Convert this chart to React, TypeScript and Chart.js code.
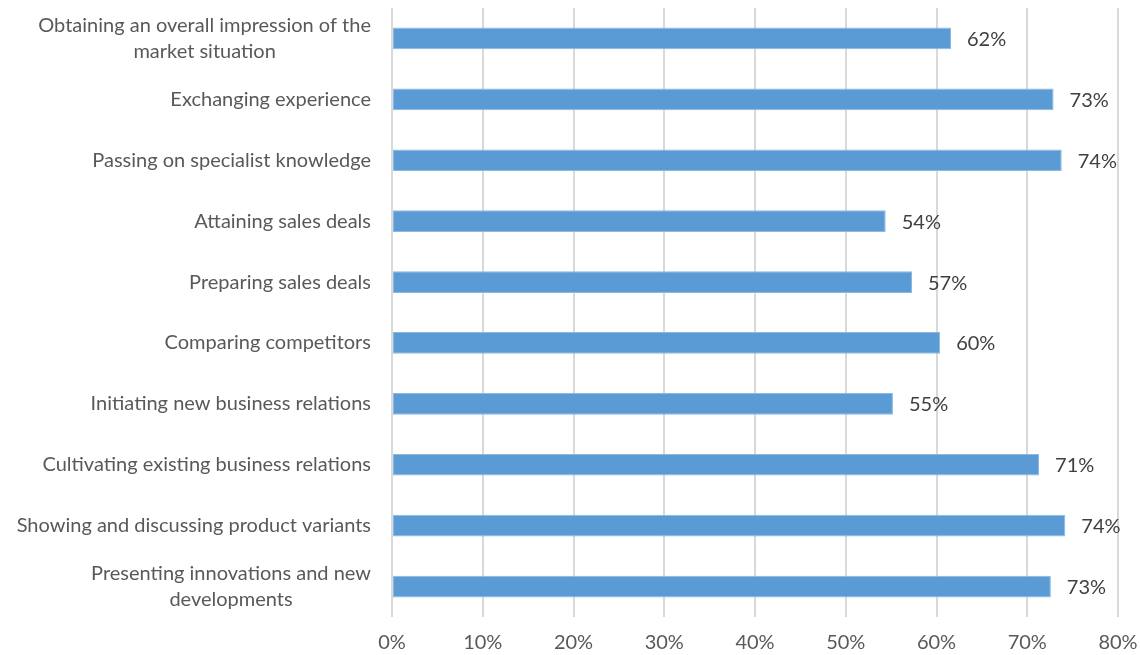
import React, { useEffect, useRef } from "react";
import { Chart, registerables } from "chart.js";

Chart.register(...registerables);

const categories: (string | string[])[] = [
  ["Obtaining an overall impression of the", "market situation"],
  "Exchanging experience",
  "Passing on specialist knowledge",
  "Attaining sales deals",
  "Preparing sales deals",
  "Comparing competitors",
  "Initiating new business relations",
  "Cultivating existing business relations",
  "Showing and discussing product variants",
  ["Presenting innovations and new", "developments"],
];

const shares: number[] = [61.6, 72.9, 73.8, 54.4, 57.3, 60.4, 55.2, 71.3, 74.2, 72.6];

const xTicks: number[] = [0, 10, 20, 30, 40, 50, 60, 70, 80];

const FONT = "Lato";
const LINE_H = 26;

const dataLabels = {
  id: "dataLabels",
  afterDatasetsDraw(chart: any) {
    const ctx = chart.ctx;
    const meta = chart.getDatasetMeta(0);
    ctx.save();
    ctx.font = `20px ${FONT}`;
    ctx.fillStyle = "#404040";
    ctx.textAlign = "left";
    ctx.textBaseline = "middle";
    meta.data.forEach((bar: any, i: number) => {
      const v = chart.data.datasets[0].data[i] as number;
      ctx.fillText(`${Math.round(v)}%`, bar.x + 16, bar.y + 1);
    });
    ctx.restore();
  },
};

const categoryLabels = {
  id: "categoryLabels",
  afterDraw(chart: any) {
    const ctx = chart.ctx;
    const yScale = chart.scales.y;
    const right = yScale.right - 21;
    ctx.save();
    ctx.font = `20px ${FONT}`;
    ctx.fillStyle = "#595959";
    ctx.textAlign = "center";
    ctx.textBaseline = "middle";
    (chart.data.labels as (string | string[])[]).forEach((lab, i) => {
      const lines = Array.isArray(lab) ? lab : [lab];
      const w = Math.max(...lines.map((l) => ctx.measureText(l).width));
      const cx = right - w / 2;
      const cy = yScale.getPixelForTick(i);
      const y0 = cy - ((lines.length - 1) * LINE_H) / 2;
      lines.forEach((l, k) => ctx.fillText(l, cx, y0 + k * LINE_H));
    });
    ctx.restore();
  },
};

export default function App() {
  const ref = useRef<HTMLCanvasElement | null>(null);
  useEffect(() => {
    if (!ref.current) return;
    const chart = new Chart(ref.current, {
      type: "bar",
      data: {
        labels: categories,
        datasets: [
          {
            data: shares,
            backgroundColor: "#5b9bd5",
            borderColor: "#8cb8e2",
            borderWidth: 1,
            borderSkipped: false,
            barPercentage: 0.357,
            categoryPercentage: 1,
          },
        ],
      },
      options: {
        indexAxis: "y",
        animation: false,
        responsive: true,
        maintainAspectRatio: false,
        layout: { padding: { top: 8, right: 22, bottom: 0, left: 0 } },
        plugins: { legend: { display: false }, tooltip: { enabled: false } },
        scales: {
          x: {
            min: 0,
            max: 80,
            afterBuildTicks: (scale: any) => {
              scale.ticks = xTicks.map((v) => ({ value: v }));
            },
            afterFit: (scale: any) => {
              scale.height = 38;
              scale.paddingLeft = 0;
              scale.paddingRight = 0;
            },
            grid: { color: "#d9d9d9", lineWidth: 2, drawTicks: false },
            border: { display: false },
            ticks: {
              padding: 14,
              color: "#595959",
              font: { family: FONT, size: 20 },
              callback: (v: any) => `${v}%`,
            },
          },
          y: {
            afterFit: (scale: any) => {
              scale.width = 392;
              scale.paddingTop = 0;
              scale.paddingBottom = 0;
            },
            grid: { display: false, drawTicks: false },
            border: { display: false },
            ticks: {
              padding: 21,
              color: "rgba(0,0,0,0)",
              font: { family: FONT, size: 20, lineHeight: 1.3 },
            },
          },
        },
      },
      plugins: [dataLabels, categoryLabels],
    });
    return () => chart.destroy();
  }, []);
  return (
    <div style={{ position: "fixed", left: 0, top: 0, width: 1140, height: 655, background: "#fff" }}>
      <canvas ref={ref} />
    </div>
  );
}
